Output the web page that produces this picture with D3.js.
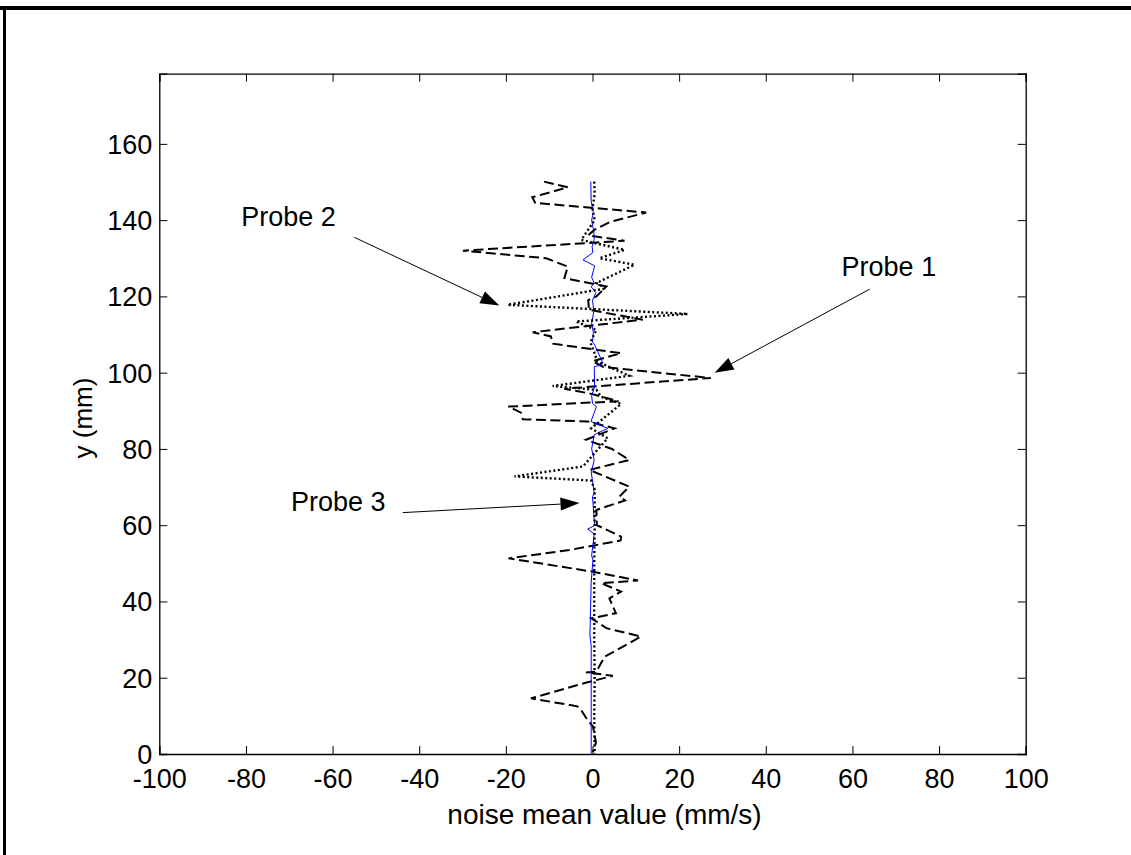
<!DOCTYPE html>
<html><head><meta charset="utf-8">
<script src="https://cdn.jsdelivr.net/npm/d3@7"></script>
<style>
html,body{margin:0;padding:0;background:#fff;}
text{font-family:"Liberation Sans",Arial,sans-serif;fill:#000;}
</style></head>
<body><svg id="c" width="1131" height="855"></svg>
<script>
// ---- data ----
const xTicks = [-100,-80,-60,-40,-20,0,20,40,60,80,100];
const yTicks = [0,20,40,60,80,100,120,140,160];
const xLabel = "noise mean value (mm/s)";
const yLabel = "y (mm)";

// Probe 1 (dashed)
const probe1X = [-11.2,-5.7,-13.9,-13.2,12.4,4.0,0.5,-1.0,7.4,-29.9,-10.7,-5.7,-6.5,3.2,0.9,-1.0,-0.8,11.6,-13.8,-9.6,-9.1,6.6,0.0,2.5,27.3,-6.5,-0.5,6.0,-19.4,-16.5,-16.1,-1.1,5.1,-1.5,4.5,8.5,-0.7,8.5,6.2,7.5,0.9,1.0,6.6,6.5,-5.3,-19.4,0.1,10.5,2.0,6.6,3.9,5.4,-0.3,3.2,11.2,2.8,0.9,-1.5,4.7,-1.8,-14.2,-3.5,-2.6,-1.5,0.1,0.8,0.1];
const probe1Y = [150.1,148.6,146.0,144.5,142.0,139.5,137.5,136.0,134.6,132.0,130.0,127.8,124.8,122.6,120.0,119.0,116.5,113.9,110.6,109.5,107.6,105.1,103.0,101.5,98.6,95.8,94.5,92.5,91.1,89.5,87.8,87.2,85.4,82.4,80.0,77.1,74.5,70.1,67.5,66.5,64.0,60.0,57.0,56.0,53.5,51.3,47.8,45.5,44.8,42.6,40.8,36.9,35.6,33.0,30.8,25.5,21.6,21.4,20.5,18.6,14.6,12.5,11.5,9.5,7.2,3.0,0.5];

// Probe 2 (dotted)
const probe2X = [0.4,0.5,0.0,0.5,-2.6,7.4,1.6,9.7,0.9,3.2,-19.6,22.0,-3.8,0.9,-0.5,0.5,1.1,8.5,-9.2,0.9,2.0,6.6,-0.3,3.5,-2.2,-18.0,-0.3,0.5,0.5,0.4,0.4,0.4,0.5,0.4,0.5];
const probe2Y = [150.1,147,143,140,134.8,132.2,130.0,128.3,123.5,122.1,117.8,115.4,113.4,111.2,108,105,102.9,99.2,96.5,95.5,93.7,91.8,85.4,82.8,75.4,72.8,71.7,69.3,60,50,40,30,20,10,0];

// Probe 3 (blue solid)
const probe3X = [-0.4,-0.3,0.2,-0.2,0.3,0.4,-0.1,0.1,-2.2,0.5,-0.2,0.4,-0.3,0.8,0.0,0.3,-0.2,0.2,0.0,0.4,2.4,2.0,0.4,0.5,-0.2,0.0,0.9,-0.35,3.5,0.4,-0.2,0.4,-0.3,0.4,0.0,0.5,-1.1,0.4,-0.2,0.1,-0.3,-0.5,-0.6,-0.3,-0.3,-0.3];
const probe3Y = [150.1,145,142,140,137,135,133,131.5,129.6,128,125,123.5,122.5,121,119,116,113,110.5,108,107.5,102.5,102,101.6,96.3,94,91.9,91.1,87.2,85.4,83.7,80,77,74,68.4,67.5,59.9,59.0,57.7,52.0,50.9,45,35.6,31.2,28.3,17.8,0];

// annotations: label, text position, arrow tail, arrow tip (data units)
const annLabels = ["Probe 1","Probe 2","Probe 3"];
const annTextX = [57.5,-81.1,-69.6];
const annTextY = [125.4,138.5,63.8];
const annTailX = [64,-55,-43.8];
const annTailY = [121.9,135.5,63.3];
const annTipX = [28.2,-21.5,-3.0];
const annTipY = [100.0,117.6,65.8];

// ---- drawing ----
const svg = d3.select("#c");
svg.append("rect").attr("width",1131).attr("height",855).attr("fill","#fff");
// outer frame fragments (top and left)
svg.append("rect").attr("x",0).attr("y",6).attr("width",1131).attr("height",4).attr("fill","#000");
svg.append("rect").attr("x",3).attr("y",6).attr("width",3).attr("height",849).attr("fill","#000");

const L=159.3, R=1025.7, T=73.7, B=754;
const x = d3.scaleLinear().domain([-100,100]).range([L,R]);
const y = d3.scaleLinear().domain([0,178.4]).range([B,T]);

const fs = 27;
const fmt = d => String(d);
const gx = svg.append("g").attr("transform",`translate(0,${B})`)
  .call(d3.axisBottom(x).tickValues(xTicks).tickSize(-8).tickPadding(15).tickFormat(fmt));
const gy = svg.append("g").attr("transform",`translate(${L},0)`)
  .call(d3.axisLeft(y).tickValues(yTicks).tickSize(-8).tickPadding(7).tickFormat(fmt));
const gt = svg.append("g").attr("transform",`translate(0,${T})`)
  .call(d3.axisTop(x).tickValues(xTicks).tickSize(-8).tickFormat(""));
const gr = svg.append("g").attr("transform",`translate(${R},0)`)
  .call(d3.axisRight(y).tickValues(yTicks).tickSize(-8).tickFormat(""));
[gx,gy,gt,gr].forEach(g=>{
  g.select(".domain").attr("stroke","#000").attr("stroke-width",1.3);
  g.selectAll(".tick line").attr("stroke","#000").attr("stroke-width",1);
  g.selectAll("text").style("font-size",fs+"px").style("font-family","'Liberation Sans',Arial,sans-serif").attr("fill","#000");
});
gx.selectAll("text").attr("dy","0.71em");
gy.selectAll("text").attr("dy","0.35em");

svg.append("text").attr("x",(L+R)/2 + 12).attr("y",824).attr("text-anchor","middle")
  .style("font-size","28px").text(xLabel);
svg.append("text").attr("transform",`translate(91.5,418) rotate(-90)`).attr("text-anchor","middle")
  .style("font-size","26px").text(yLabel);

const line = d3.line().x(d=>x(d[0])).y(d=>y(d[1]));
const zip = (a,b)=>a.map((v,i)=>[v,b[i]]);
const plot = svg.append("g");
plot.append("path").datum(zip(probe1X,probe1Y)).attr("d",line).attr("fill","none")
  .attr("stroke","#000").attr("stroke-width",2).attr("stroke-dasharray","10,4.5");
plot.append("path").datum(zip(probe3X,probe3Y)).attr("d",line).attr("fill","none")
  .attr("stroke","#0000ff").attr("stroke-width",1);
plot.append("path").datum(zip(probe2X,probe2Y)).attr("d",line).attr("fill","none")
  .attr("stroke","#000").attr("stroke-width",2.4).attr("stroke-dasharray","2,2.5");

// annotations
annLabels.forEach((lab,i)=>{
  svg.append("text").attr("x",x(annTextX[i])).attr("y",y(annTextY[i]))
    .style("font-size",fs+"px").text(lab);
  const x0=x(annTailX[i]), y0=y(annTailY[i]), x1=x(annTipX[i]), y1=y(annTipY[i]);
  const ang=Math.atan2(y1-y0,x1-x0), hl=19, hw=6.5;
  const bx=x1-hl*Math.cos(ang), by=y1-hl*Math.sin(ang);
  svg.append("line").attr("x1",x0).attr("y1",y0).attr("x2",bx).attr("y2",by)
    .attr("stroke","#000").attr("stroke-width",1);
  const px=-Math.sin(ang), py=Math.cos(ang);
  svg.append("polygon").attr("points",[[x1,y1],[bx+hw*px,by+hw*py],[bx-hw*px,by-hw*py]].map(p=>p.join(",")).join(" "))
    .attr("fill","#000");
});
</script></body></html>
